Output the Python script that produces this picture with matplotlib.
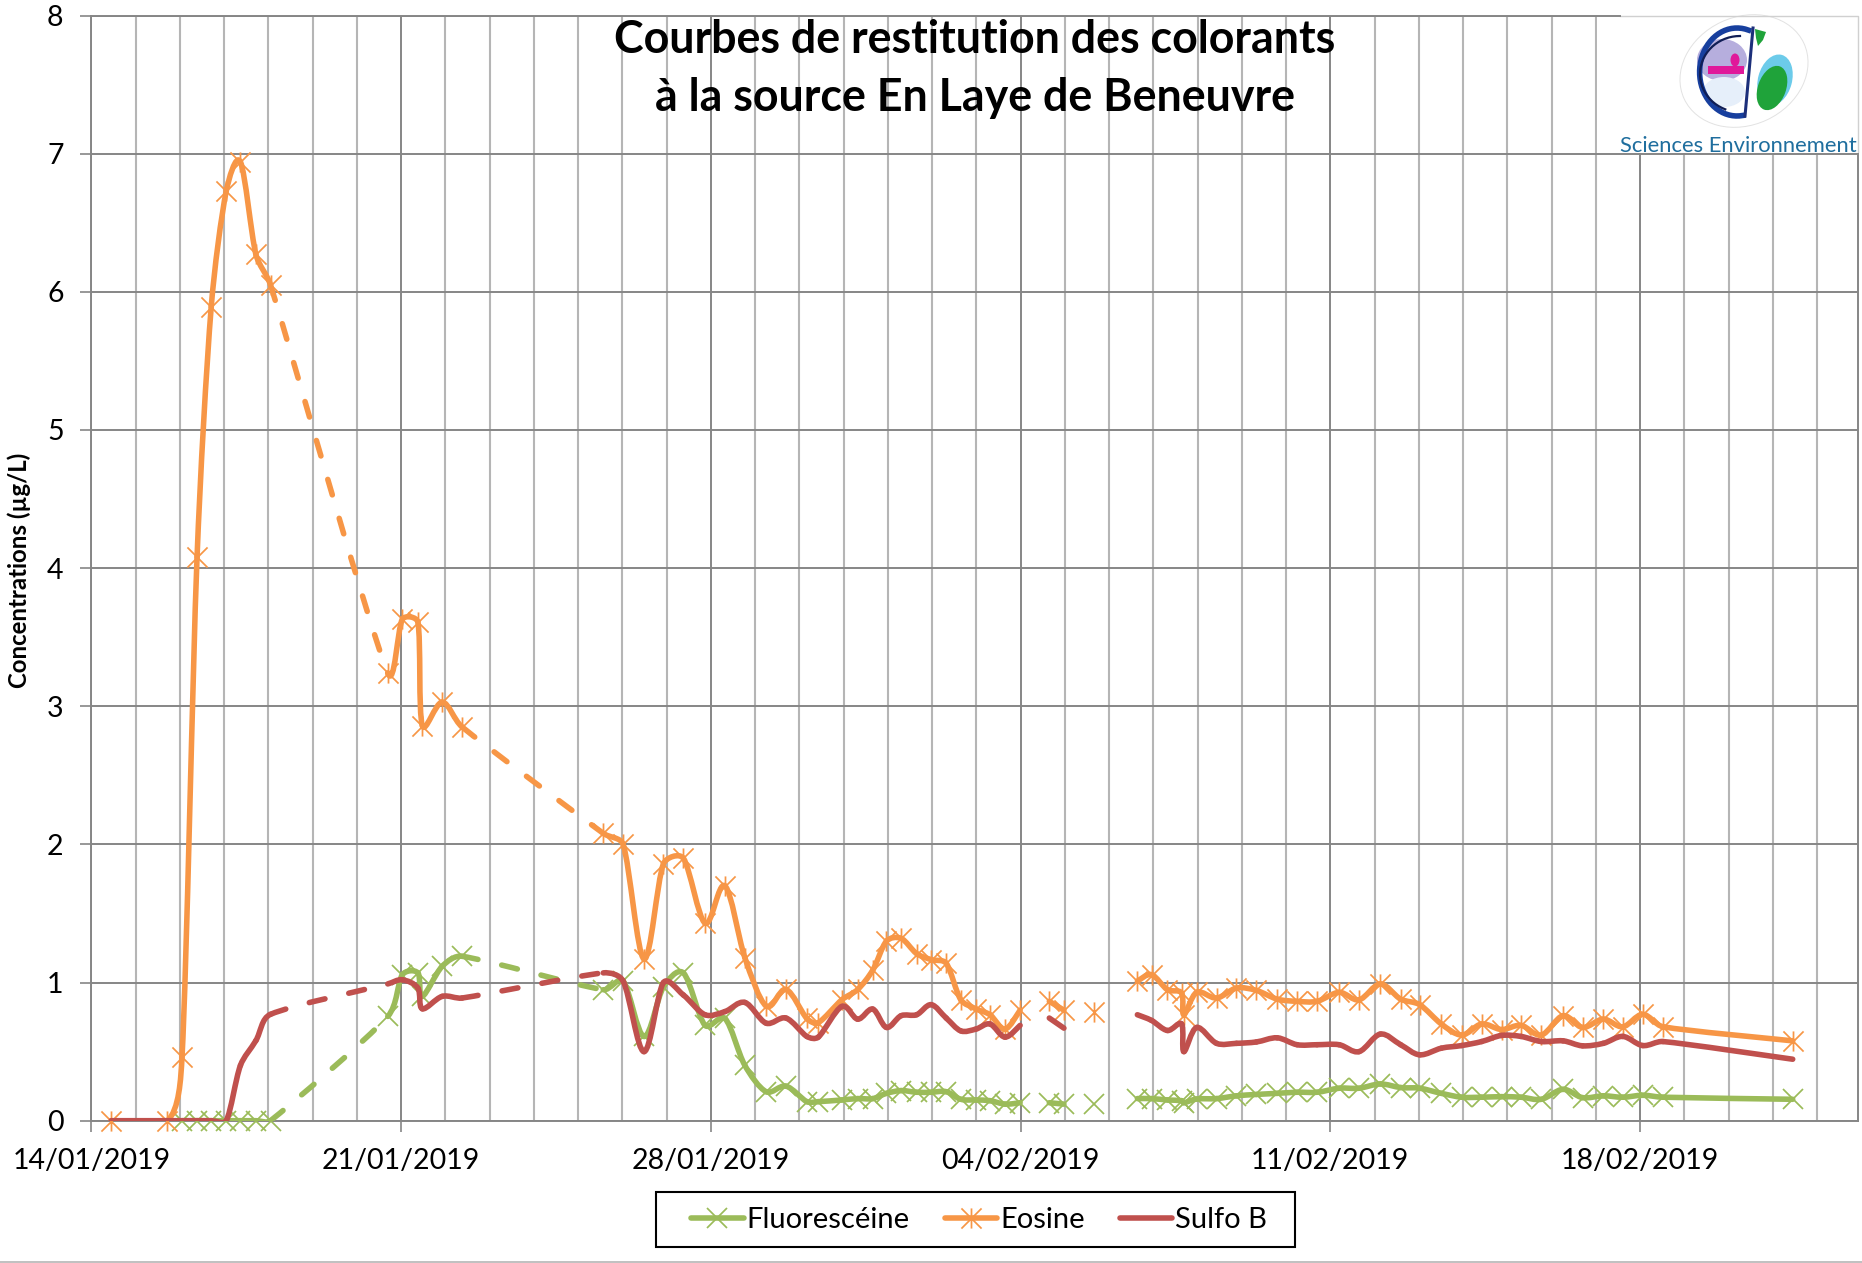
import numpy as np
import matplotlib
matplotlib.use("Agg")
import matplotlib.pyplot as plt
from matplotlib.path import Path
from matplotlib.patches import PathPatch, Ellipse, Rectangle, Polygon
from matplotlib.lines import Line2D

plt.rcParams['font.family'] = ['Lato', 'DejaVu Sans']

# jours depuis le 14/01/2019
days = [0.45, 1.72, 2.05, 2.39, 2.71, 3.05, 3.37, 3.72, 4.05,
        6.70, 7.03, 7.38, 7.48, 7.93, 8.38,
        11.57, 12.02, 12.49, 12.93, 13.38, 13.87, 14.32, 14.77, 15.25, 15.70, 16.17, 16.43,
        16.96, 17.32, 17.66, 17.97, 18.30, 18.65, 18.98, 19.32, 19.65, 19.99, 20.31, 20.65, 20.99,
        21.65, 21.98, 22.65,
        23.64, 23.96, 24.32, 24.64, 24.69, 24.98, 25.43, 25.88, 26.33, 26.80, 27.25, 27.70,
        28.20, 28.65, 29.13, 29.59, 30.02, 30.51, 30.97, 31.42, 31.87, 32.31, 32.77, 33.26,
        33.70, 34.17, 34.61, 35.06, 35.52,
        38.45]

eosine = [0, 0, 0.46, 4.08, 5.89, 6.73, 6.94, 6.27, 6.05,
          3.24, 3.63, 3.61, 2.86, 3.03, 2.85,
          2.08, 2.00, 1.17, 1.86, 1.90, 1.43, 1.70, 1.18, 0.83, 0.95, 0.74, 0.71,
          0.875, 0.95, 1.09, 1.30, 1.32, 1.21, 1.166, 1.14, 0.875, 0.81, 0.767, 0.663, 0.80,
          0.864, 0.80, 0.786,
          1.01, 1.057, 0.948, 0.924, 0.767, 0.929, 0.888, 0.96, 0.943, 0.88, 0.864, 0.864,
          0.929, 0.875, 0.99, 0.88, 0.84, 0.70, 0.62, 0.70, 0.66, 0.69, 0.62, 0.76,
          0.675, 0.735, 0.68, 0.77, 0.68,
          0.578]

fluoresceine = [np.nan, np.nan, 0, 0, 0, 0, 0, 0, 0,
                0.755, 1.057, 1.07, 0.90, 1.118, 1.19,
                0.948, 1.01, 0.61, 0.968, 1.07, 0.69, 0.74, 0.40, 0.21, 0.25, 0.138, 0.138,
                0.15, 0.16, 0.16, 0.198, 0.218, 0.206, 0.206, 0.21, 0.155, 0.15, 0.145, 0.12, 0.13,
                0.13, 0.12, 0.12,
                0.16, 0.16, 0.15, 0.145, 0.13, 0.157, 0.16, 0.18, 0.19, 0.198, 0.206, 0.206,
                0.235, 0.235, 0.266, 0.24, 0.235, 0.198, 0.17, 0.17, 0.174, 0.17, 0.155, 0.227,
                0.167, 0.18, 0.17, 0.184, 0.17,
                0.155]

sulfo = [0, 0, 0, 0, 0, 0, 0.40, 0.58, 0.77,
         0.99, 1.02, 0.96, 0.81, 0.90, 0.888,
         1.07, 1.01, 0.50, 1.00, 0.91, 0.767, 0.79, 0.856, 0.706, 0.743, 0.61, 0.605,
         0.827, 0.735, 0.808, 0.675, 0.76, 0.767, 0.84, 0.743, 0.65, 0.663, 0.70, 0.605, 0.69,
         0.743, 0.67, np.nan,
         0.767, 0.726, 0.653, 0.70, 0.50, 0.675, 0.56, 0.56, 0.57, 0.60, 0.55, 0.55,
         0.55, 0.50, 0.627, 0.55, 0.477, 0.525, 0.544, 0.573, 0.617, 0.61, 0.573, 0.578,
         0.542, 0.56, 0.61, 0.544, 0.573,
         0.445]

dashed_after = [4.05, 8.38]          # segments en pointillés
no_line_after = [20.99, 21.98, 22.65]  # trous dans les mesures

tick_days = [0, 7, 14, 21, 28, 35]
tick_labels = ['14/01/2019', '21/01/2019', '28/01/2019', '04/02/2019', '11/02/2019', '18/02/2019']

GREEN = '#9BBB59'
ORANGE = '#F79646'
RED = '#C0504D'
GRID = '#868686'
GRID_MINOR = '#B5B5B5'
W, H = 1862, 1263
PX_DAY = 44.25
PX_UNIT = 138.1
LW = 4.0
MS = 14.5
MEW = 1.25

star = Path([(-1, -1), (1, 1), (-1, 1), (1, -1), (0, -1), (0, 1)],
            [Path.MOVETO, Path.LINETO, Path.MOVETO, Path.LINETO, Path.MOVETO, Path.LINETO])


def handle(a, b, seg):
    # poignée Catmull-Rom en pixels, limitée par le segment courant pour éviter les boucles
    d = (b - a) * [PX_DAY, PX_UNIT] / 6
    n = np.hypot(*d)
    if n > seg / 3:
        d = d * (seg / 3) / n
    return d / [PX_DAY, PX_UNIT]


def draw_smooth(ax, x, y, color, z):
    # courbe lissée façon Excel, tracée segment par segment
    x = np.array(x, float)
    y = np.array(y, float)
    n = len(x)
    for i in range(n - 1):
        if np.isnan(y[i]) or np.isnan(y[i + 1]) or x[i] in no_line_after:
            continue
        p1 = np.array([x[i], y[i]])
        p2 = np.array([x[i + 1], y[i + 1]])
        has_prev = i > 0 and not np.isnan(y[i - 1]) and x[i - 1] not in no_line_after
        has_next = i + 2 < n and not np.isnan(y[i + 2]) and x[i + 1] not in no_line_after
        p0 = np.array([x[i - 1], y[i - 1]]) if has_prev else p1
        p3 = np.array([x[i + 2], y[i + 2]]) if has_next else p2
        seg = np.hypot(*((p2 - p1) * [PX_DAY, PX_UNIT]))
        c1 = p1 + handle(p0, p2, seg)
        c2 = p2 - handle(p1, p3, seg)
        path = Path([p1, c1, c2, p2], [Path.MOVETO, Path.CURVE4, Path.CURVE4, Path.CURVE4])
        ls = (0, (2.9, 4.4)) if x[i] in dashed_after else '-'
        ax.add_patch(PathPatch(path, fill=False, edgecolor=color, lw=LW, linestyle=ls,
                               capstyle='round', joinstyle='round', zorder=z))


fig = plt.figure(figsize=(W / 100, H / 100), dpi=100)
ax = fig.add_axes([91.3 / W, 1 - 1120.7 / H, (1858 - 91.3) / W, (1120.7 - 15.5) / H])

draw_smooth(ax, days, fluoresceine, GREEN, 3)
ax.plot(days, fluoresceine, ls='none', marker='x', ms=MS, mew=MEW, color=GREEN, zorder=3, clip_on=False)
draw_smooth(ax, days, eosine, ORANGE, 4)
ax.plot(days, eosine, ls='none', marker=star, ms=MS, mew=MEW, color=ORANGE, mfc='none', zorder=4, clip_on=False)
draw_smooth(ax, days, sulfo, RED, 5)

ax.set_xlim(0, (1858 - 91.3) / PX_DAY)
ax.set_ylim(0, 8)
ax.set_xticks(tick_days)
ax.set_xticklabels(tick_labels)
ax.set_xticks(np.arange(0, 40), minor=True)
ax.set_yticks(range(0, 9))
ax.tick_params(axis='both', which='major', length=8, width=1.2, color=GRID, labelsize=20.5, pad=12)
ax.tick_params(axis='x', which='minor', length=0)
ax.grid(True, which='minor', axis='x', color=GRID_MINOR, lw=1.5, zorder=0)
ax.grid(True, which='major', axis='x', color=GRID, lw=1.4, zorder=1)
ax.grid(True, which='major', axis='y', color=GRID, lw=1.4, zorder=1)
ax.set_axisbelow(True)
for s in ax.spines.values():
    s.set_color(GRID)
    s.set_linewidth(1.4)

fig.text(19 / W, 1 - 570 / H, 'Concentrations (µg/L)', rotation=90, ha='center', va='center',
         fontsize=17.3, fontweight='bold')
fig.text(975 / W, 1 - 69 / H, 'Courbes de restitution des colorants\nà la source En Laye de Beneuvre',
         ha='center', va='center', fontsize=32.2, fontweight='bold', linespacing=1.47, zorder=10)

handles = [Line2D([], [], color=GREEN, lw=LW, marker='x', ms=MS, mew=MEW, solid_capstyle='round'),
           Line2D([], [], color=ORANGE, lw=LW, marker=star, ms=MS, mew=MEW, mfc='none', solid_capstyle='round'),
           Line2D([], [], color=RED, lw=LW, solid_capstyle='round')]
fig.add_artist(Rectangle((656 / W, 1 - 1247 / H), (1295 - 656) / W, 55 / H, transform=fig.transFigure,
                         fc='white', ec='black', lw=1.5))
leg = fig.legend(handles, ['Fluorescéine', 'Eosine', 'Sulfo B'], loc='center',
                 bbox_to_anchor=(979 / W, 1 - 1220 / H), ncol=3, fontsize=21, frameon=False,
                 handlelength=1.8, handletextpad=0.1, columnspacing=1.2)

# logo en haut à droite
logo = fig.add_axes([1597 / W, 1 - 153 / H, (1860 - 1597) / W, (153 - 13) / H], zorder=6)
logo.set_xlim(1597, 1860)
logo.set_ylim(153, 13)
logo.axis('off')
logo.add_patch(Rectangle((1597, 13), 263, 139.5, fc='white', ec='none'))
logo.plot([1620, 1858, 1858], [16, 16, 152], color='#D0D0D0', lw=1)
logo.plot([1597, 1620], [16, 16], color=GRID, lw=1.4)
logo.add_patch(Ellipse((1744, 71), 132, 108, angle=-25, fc='white', ec='#E2E2E2', lw=0.7))
logo.add_patch(Ellipse((1722, 60), 50, 42, fc='#A9A0D8', ec='none', alpha=0.85))
logo.add_patch(Ellipse((1724, 92), 42, 30, fc='#E6EFFA', ec='none'))
logo.add_patch(Ellipse((1775, 80), 34, 52, angle=15, fc='#6CCBEA', ec='none'))
logo.add_patch(Ellipse((1772, 88), 28, 46, angle=20, fc='#1FA33A', ec='none'))
logo.add_patch(Rectangle((1708, 66), 36, 8, fc='#E0189A', ec='none'))
logo.add_patch(Ellipse((1735, 60), 9, 13, fc='#E0189A', ec='none'))
logo.add_patch(Polygon([[1755, 29], [1766, 32], [1763, 40], [1758, 46], [1756, 38]], fc='#1FA33A', ec='none'))
t = np.linspace(0.45 * np.pi, 1.6 * np.pi, 40)
logo.plot(1737 + 44 * np.cos(t) * 0.85, 72 + 44 * np.sin(t), color='#173F9E', lw=4)
t2 = np.linspace(0.62 * np.pi, 1.5 * np.pi, 30)
logo.plot(1740 + 40 * np.cos(t2), 74 + 38 * np.sin(t2), color='#101E55', lw=1.6)
logo.plot([1753, 1745], [28, 116], color='#1C2F7A', lw=2.2)
logo.text(1857, 152, 'Sciences Environnement', ha='right', va='baseline', fontsize=15.8,
          color='#1F6E9E')

fig.add_artist(Line2D([0, 1], [1 - 1262 / H, 1 - 1262 / H], color=GRID_MINOR, lw=1.2))

fig.savefig('out.png', dpi=100)
